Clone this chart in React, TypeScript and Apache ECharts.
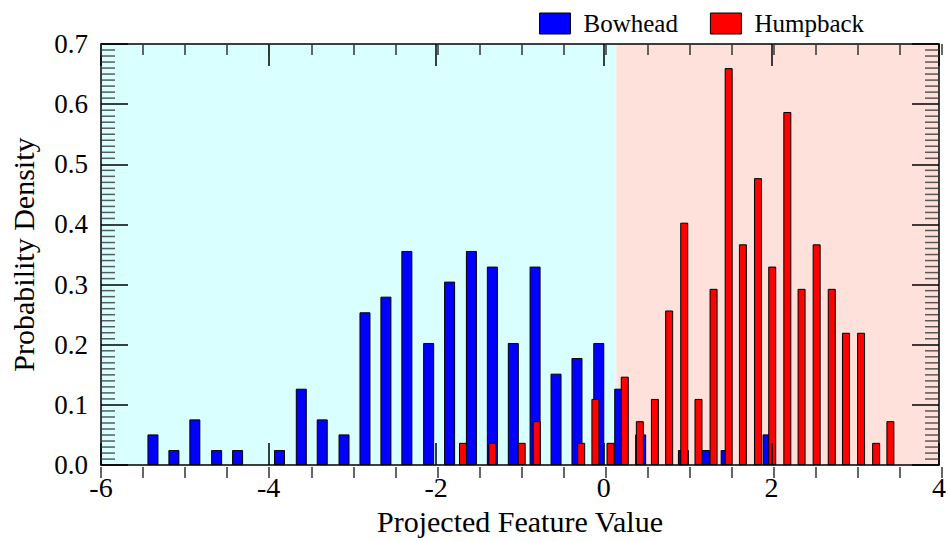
import React, { useEffect, useRef } from "react";
import * as echarts from "echarts";

// Bowhead histogram (bin centres, density)
const bowheadX = [-5.38, -5.13, -4.88, -4.62, -4.37, -3.87, -3.61, -3.36, -3.10, -2.85, -2.60, -2.35, -2.09, -1.84, -1.58, -1.33, -1.08, -0.82, -0.57, -0.32, -0.06, 0.19, 0.44, 0.95, 1.20, 1.46, 1.96];
const bowheadY = [0.051, 0.025, 0.076, 0.025, 0.025, 0.025, 0.127, 0.076, 0.051, 0.254, 0.280, 0.356, 0.203, 0.305, 0.356, 0.330, 0.203, 0.330, 0.152, 0.178, 0.203, 0.127, 0.051, 0.025, 0.025, 0.025, 0.051];

// Humpback histogram (bin centres, density)
const humpbackX = [-1.68, -1.33, -0.98, -0.80, -0.27, -0.10, 0.08, 0.25, 0.43, 0.61, 0.78, 0.96, 1.13, 1.31, 1.49, 1.66, 1.84, 2.01, 2.19, 2.36, 2.54, 2.72, 2.89, 3.07, 3.25, 3.42];
const humpbackY = [0.037, 0.037, 0.037, 0.073, 0.037, 0.110, 0.037, 0.147, 0.073, 0.110, 0.257, 0.403, 0.110, 0.293, 0.660, 0.367, 0.477, 0.330, 0.587, 0.293, 0.367, 0.293, 0.220, 0.220, 0.037, 0.073];

// Decision regions
const regionBounds = [-6, 0.15, 4];
const seriesNames = ["Bowhead", "Humpback"];
const xTicks = { min: -6, max: 4, interval: 2, minor: 0.5 };
const yTicks = { min: 0, max: 0.7, interval: 0.1, minorSteps: 70 };

const FONT = "'Liberation Serif', 'Times New Roman', serif";

export default function App() {
  const ref = useRef<HTMLDivElement>(null);

  useEffect(() => {
    document.body.style.margin = "0";
    if (!ref.current) return;
    const chart = echarts.init(ref.current, undefined, { renderer: "svg" });

    const lineStyle = { color: "#000", width: 1.5 };
    const minorStyle = { color: "#333", width: 1.5 };
    const gridRect = { left: 101, right: 7, top: 44, bottom: 63, containLabel: false };

    const xBase = (pos: "bottom" | "top", labels: boolean, minor: boolean) => ({
      type: "value",
      gridIndex: minor ? 1 : 0,
      position: pos,
      z: 10,
      min: xTicks.min,
      max: xTicks.max,
      interval: minor ? xTicks.minor : xTicks.interval,
      axisLine: { show: !minor, onZero: false, lineStyle },
      axisTick: { show: true, inside: true, length: minor ? 11 : 22, lineStyle: minor ? minorStyle : lineStyle },
      splitLine: { show: false },
      axisLabel: labels
        ? { show: true, fontSize: 28, fontFamily: FONT, color: "#000", margin: 8 }
        : { show: false },
    });

    const yBase = (pos: "left" | "right", labels: boolean, grid: number) => ({
      type: "value",
      gridIndex: grid,
      position: pos,
      z: 10,
      min: yTicks.min,
      max: yTicks.max,
      interval: yTicks.interval,
      axisLine: { show: grid === 0, onZero: false, lineStyle },
      axisTick: { show: grid === 0, inside: true, length: 27, lineStyle },
      splitLine: { show: false },
      axisLabel: labels
        ? {
            show: true,
            fontSize: 27,
            fontFamily: FONT,
            color: "#000",
            margin: 13,
            formatter: (v: number) => v.toFixed(1),
          }
        : { show: false },
    });

    // minor y tick positions (every 1/10 of a major step), on both frame sides
    const yMinorLeft: number[][] = [];
    const yMinorRight: number[][] = [];
    for (let i = 1; i < yTicks.minorSteps; i++) {
      if (i % 10 !== 0) {
        const v = (i * yTicks.max) / yTicks.minorSteps;
        yMinorLeft.push([xTicks.min, v]);
        yMinorRight.push([xTicks.max, v]);
      }
    }

    const tickSeries = (name: string, data: number[][], offset: number) => ({
      name,
      type: "scatter",
      xAxisIndex: 0,
      yAxisIndex: 0,
      z: 12,
      silent: true,
      clip: false,
      symbol: "rect",
      symbolSize: [14, 1.5],
      symbolOffset: [offset, 0],
      itemStyle: { color: "#333" },
      data,
    });

    const option: any = {
      animation: false,
      backgroundColor: "#fff",
      grid: [gridRect, { ...gridRect, z: 10 }],
      legend: {
        data: seriesNames,
        left: 534,
        top: 6,
        icon: "rect",
        itemWidth: 31,
        itemHeight: 21,
        itemGap: 32,
        itemStyle: { borderColor: "#000", borderWidth: 1 },
        textStyle: { fontSize: 25, fontFamily: FONT, color: "#000", padding: [0, 0, 0, 8] },
      },
      xAxis: [
        {
          ...xBase("bottom", true, false),
          name: "Projected Feature Value",
          nameLocation: "middle",
          nameGap: 28,
          nameTextStyle: { fontSize: 30, fontFamily: FONT, color: "#000" },
        },
        xBase("top", false, false),
        xBase("bottom", false, true),
        xBase("top", false, true),
      ],
      yAxis: [
        {
          ...yBase("left", true, 0),
          name: "Probability Density",
          nameLocation: "middle",
          nameGap: 63,
          nameTextStyle: { fontSize: 30, fontFamily: FONT, color: "#000" },
        },
        yBase("right", false, 0),
        yBase("left", false, 1),
        yBase("right", false, 1),
      ],
      series: [
        {
          name: "regions",
          type: "line",
          data: [],
          xAxisIndex: 0,
          yAxisIndex: 0,
          z: 0,
          silent: true,
          markArea: {
            silent: true,
            data: [
              [{ xAxis: regionBounds[0], itemStyle: { color: "#d9ffff" } }, { xAxis: regionBounds[1] }],
              [{ xAxis: regionBounds[1], itemStyle: { color: "#ffe1dc" } }, { xAxis: regionBounds[2] }],
            ],
          },
        },
        {
          name: seriesNames[0],
          type: "bar",
          xAxisIndex: 0,
          yAxisIndex: 0,
          z: 2,
          barWidth: 11,
          itemStyle: { color: "#0000ff", borderColor: "#000", borderWidth: 1 },
          data: bowheadX.map((x, i) => [x, bowheadY[i]]),
        },
        {
          name: seriesNames[1],
          type: "bar",
          xAxisIndex: 1,
          yAxisIndex: 0,
          z: 3,
          barWidth: 8,
          itemStyle: { color: "#ff0000", borderColor: "#000", borderWidth: 1 },
          data: humpbackX.map((x, i) => [x, humpbackY[i]]),
        },
        tickSeries("yMinorLeft", yMinorLeft, 7),
        tickSeries("yMinorRight", yMinorRight, -7),
        {
          name: "tickHelper",
          type: "line",
          data: [],
          xAxisIndex: 2,
          yAxisIndex: 2,
          silent: true,
        },
        {
          name: "tickHelper2",
          type: "line",
          data: [],
          xAxisIndex: 3,
          yAxisIndex: 3,
          silent: true,
        },
      ],
    };

    chart.setOption(option);
    return () => chart.dispose();
  }, []);

  return <div ref={ref} style={{ width: 949, height: 541 }} />;
}
